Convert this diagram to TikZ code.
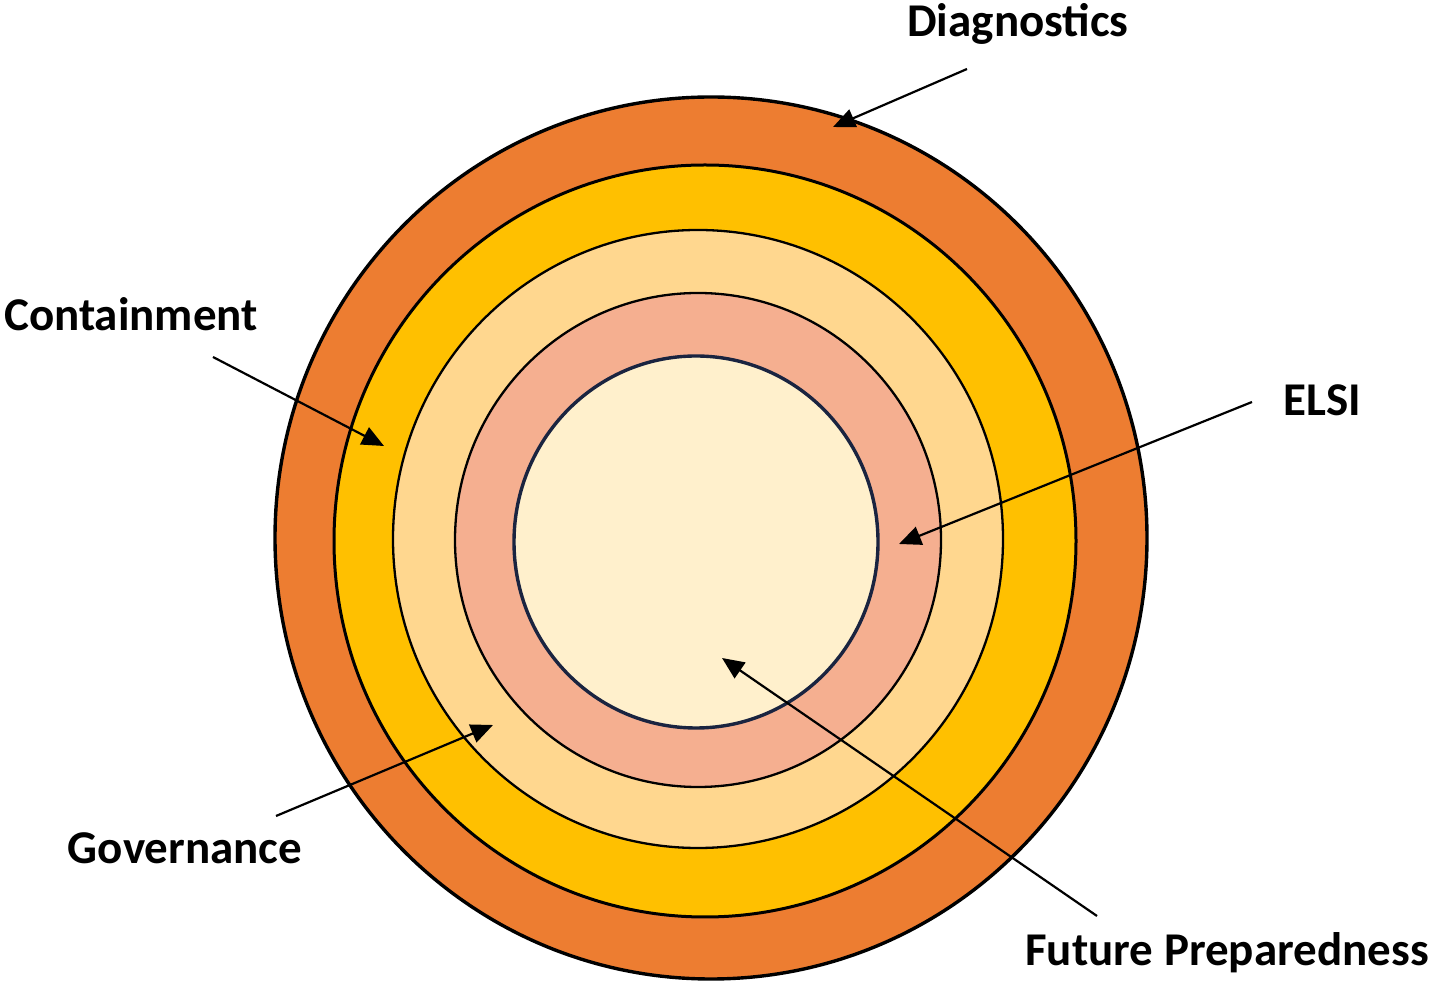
\documentclass[tikz,border=0pt]{standalone}
\usepackage{fontspec}
\setmainfont{Carlito}
\usetikzlibrary{arrows.meta}
\definecolor{cOuter}{HTML}{ED7D31}
\definecolor{cGold}{HTML}{FFC000}
\definecolor{cPeach}{HTML}{FFD78F}
\definecolor{cSalmon}{HTML}{F5AF90}
\definecolor{cCream}{HTML}{FFF0CC}
\definecolor{cNavy}{HTML}{1A2440}
\tikzset{
  ring/.style={draw=black},
  lbl/.style={font=\bfseries\fontsize{47}{52}\selectfont, inner sep=0pt, text=black},
  ptr/.style={draw=black, line width=2.2pt, -{Triangle[length=22pt,width=19pt]}}
}
\begin{document}
\begin{tikzpicture}[x=1pt,y=1pt]
\useasboundingbox (0,0) rectangle (1441,991);
\draw[ring, fill=cOuter, line width=3.4pt] (711,453) ellipse [x radius=436, y radius=441];
\draw[ring, fill=cGold, line width=3pt] (705,450) ellipse [x radius=371, y radius=376];
\draw[ring, fill=cPeach, line width=2.3pt] (698,452) ellipse [x radius=305, y radius=309];
\draw[ring, fill=cSalmon, line width=2.3pt] (698,451) ellipse [x radius=243, y radius=247];
\draw[draw=cNavy, fill=cCream, line width=3.4pt] (696,449) ellipse [x radius=182, y radius=186];

\node[lbl] (diag) at (1018,967) {Diagnostics};
\node[lbl] (cont) at (131,677) {Containment};
\node[lbl] (elsi) at (1322,591) {ELSI};
\node[lbl] (gov) at (185,143) {Governance};
\node[lbl] (fut) at (1227,38) {Future Preparedness};

\coordinate (diagT) at (967,922);
\coordinate (diagH) at (833,864);
\coordinate (contT) at (213,634);
\coordinate (contH) at (384,545);
\coordinate (elsiT) at (1252,589);
\coordinate (elsiH) at (899,447);
\coordinate (govT) at (276,175);
\coordinate (govH) at (493,266);
\coordinate (futT) at (1097,75);
\coordinate (futH) at (722,333);

\draw[ptr] (diagT) -- (diagH);
\draw[ptr] (contT) -- (contH);
\draw[ptr] (elsiT) -- (elsiH);
\draw[ptr] (govT) -- (govH);
\draw[ptr] (futT) -- (futH);
\end{tikzpicture}
\end{document}
